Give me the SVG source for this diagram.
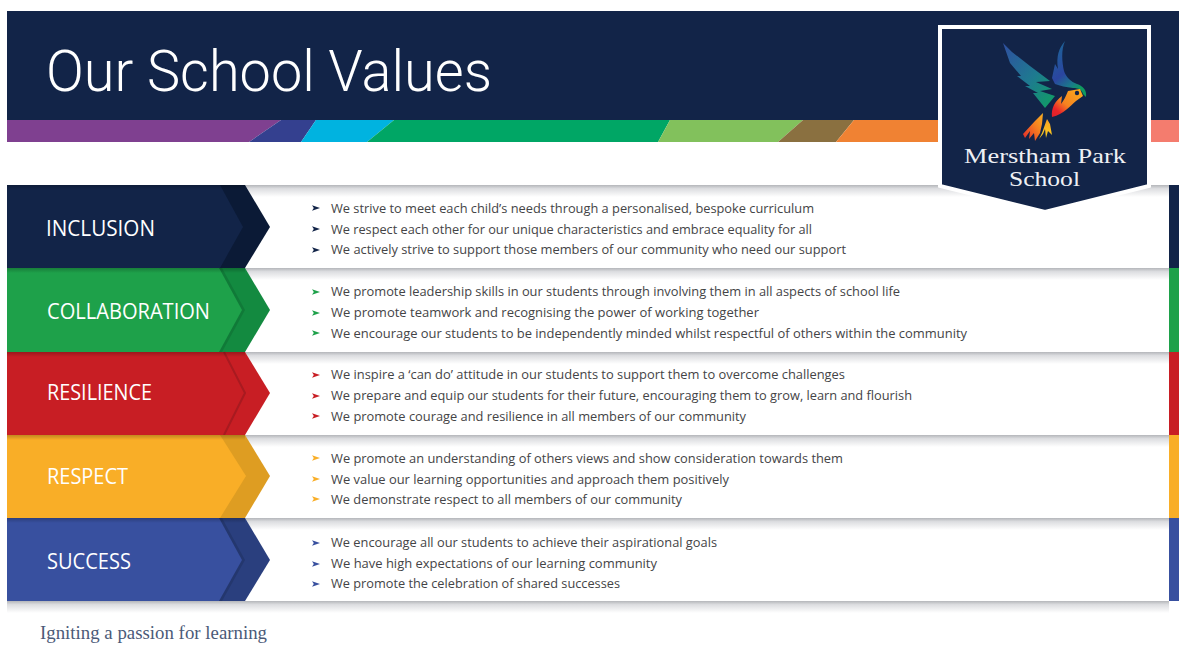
<svg xmlns="http://www.w3.org/2000/svg" width="1179" height="646" viewBox="0 0 1179 646">
<style>
.b{font-family:"Open Sans","Liberation Sans",sans-serif;font-size:13px;fill:#444446}
.l{font-family:"Open Sans","Liberation Sans",sans-serif;font-size:22px;fill:#fff}
.s{font-family:"Liberation Serif",serif;font-size:22px;fill:#eef0f4}
</style>
<defs>
<linearGradient id="sh" x1="0" y1="0" x2="0" y2="1"><stop offset="0" stop-color="#b4b6ba"/><stop offset=".3" stop-color="#dcdde0"/><stop offset="1" stop-color="#fff"/></linearGradient>
<linearGradient id="tp" x1="0" y1="0" x2="0" y2="1"><stop offset="0" stop-color="#000" stop-opacity=".22"/><stop offset="1" stop-color="#000" stop-opacity="0"/></linearGradient>
<symbol id="ar" overflow="visible"><path d="M0-2.7 8 0 0 2.7 1.8 0Z"/></symbol>
<linearGradient id="w1" x1="0" y1="0" x2="1" y2="1"><stop offset="0" stop-color="#2f4fa0"/><stop offset=".55" stop-color="#1e7a90"/><stop offset="1" stop-color="#0fa060"/></linearGradient>
<linearGradient id="w2" x1="0" y1="0" x2=".5" y2="1"><stop offset="0" stop-color="#1a6a96"/><stop offset=".6" stop-color="#2b45a0"/><stop offset=".85" stop-color="#1a7a8a"/><stop offset="1" stop-color="#0f9a60"/></linearGradient>
<linearGradient id="bd" x1="1" y1="0" x2="0" y2="1"><stop offset="0" stop-color="#fbb01c"/><stop offset=".55" stop-color="#f58220"/><stop offset=".8" stop-color="#e8242a"/><stop offset="1" stop-color="#e0202a"/></linearGradient>
<linearGradient id="tl" x1="0" y1="1" x2="1" y2="0"><stop offset="0" stop-color="#e3242b"/><stop offset=".6" stop-color="#f58220"/><stop offset="1" stop-color="#f9b023"/></linearGradient>
<linearGradient id="ty" x1="0" y1="0" x2="0" y2="1"><stop offset="0" stop-color="#f9a023"/><stop offset="1" stop-color="#fbd21e"/></linearGradient>
</defs>
<rect width="1179" height="646" fill="#fff"/>
<g id="header">
<rect x="7" y="11" width="1172" height="109" fill="#122448"/>
<path d="M7 120H281L249 142H7Z" fill="#7f4090"/>
<path d="M281 120H316L301 142H249Z" fill="#34408f"/>
<path d="M316 120H394L367 142H301Z" fill="#00b3e0"/>
<path d="M394 120H670L658 142H367Z" fill="#00a665"/>
<path d="M670 120H803L778 142H658Z" fill="#82c15c"/>
<path d="M803 120H854L836 142H778Z" fill="#8a7040"/>
<path d="M854 120H945V142H836Z" fill="#f08233"/>
<rect x="1145" y="120" width="34" height="22" fill="#f47c6e"/>
<text x="46" y="91" font-family="Roboto,sans-serif" font-weight="300" font-size="58" fill="#fff" textLength="446" lengthAdjust="spacingAndGlyphs">Our School Values</text>
</g>
<g id="row-inclusion">
<rect x="245" y="185" width="924" height="12" fill="url(#sh)"/>
<rect x="1169" y="185" width="10" height="83" fill="#122448"/>
<path d="M7 185H245L270 227 245 268H7Z" fill="#0b1a36"/><path d="M7 185H220L243 227 220 268H7Z" fill="#122448"/>
<rect x="7" y="185" width="238" height="5" fill="url(#tp)"/>
<text class="l" x="46" y="236" textLength="109" lengthAdjust="spacingAndGlyphs">INCLUSION</text>
<g fill="#122448"><use href="#ar" x="312" y="208"/><use href="#ar" x="312" y="229"/><use href="#ar" x="312" y="250"/></g>
<text class="b" x="331" y="213" textLength="483" lengthAdjust="spacingAndGlyphs">We strive to meet each child’s needs through a personalised, bespoke curriculum</text>
<text class="b" x="331" y="234" textLength="481" lengthAdjust="spacingAndGlyphs">We respect each other for our unique characteristics and embrace equality for all</text>
<text class="b" x="331" y="254" textLength="515" lengthAdjust="spacingAndGlyphs">We actively strive to support those members of our community who need our support</text>
</g>
<g id="row-collaboration">
<rect x="245" y="268" width="924" height="12" fill="url(#sh)"/>
<rect x="1169" y="268" width="10" height="84" fill="#1ea14a"/>
<path d="M7 268H245L270 310 245 352H7Z" fill="#138a40"/><path d="M222 268 245 310 222 352H7V268Z" fill="#107a38"/><path d="M7 268H219L242 310 219 352H7Z" fill="#1ea14a"/>
<rect x="7" y="268" width="238" height="5" fill="url(#tp)"/>
<text class="l" x="47" y="319" textLength="163" lengthAdjust="spacingAndGlyphs">COLLABORATION</text>
<g fill="#1ea14a"><use href="#ar" x="312" y="292"/><use href="#ar" x="312" y="313"/><use href="#ar" x="312" y="333"/></g>
<text class="b" x="331" y="296" textLength="569" lengthAdjust="spacingAndGlyphs">We promote leadership skills in our students through involving them in all aspects of school life</text>
<text class="b" x="331" y="317" textLength="428" lengthAdjust="spacingAndGlyphs">We promote teamwork and recognising the power of working together</text>
<text class="b" x="331" y="338" textLength="636" lengthAdjust="spacingAndGlyphs">We encourage our students to be independently minded whilst respectful of others within the community</text>
</g>
<g id="row-resilience">
<rect x="245" y="352" width="924" height="12" fill="url(#sh)"/>
<rect x="1169" y="352" width="10" height="83" fill="#c81e24"/>
<path d="M7 352H245L270 393 245 435H7Z" fill="#c81e24"/><path d="M224 352 245 393 224 435" fill="none" stroke="#a81a20" stroke-width="2"/>
<rect x="7" y="352" width="238" height="5" fill="url(#tp)"/>
<text class="l" x="47" y="400" textLength="105" lengthAdjust="spacingAndGlyphs">RESILIENCE</text>
<g fill="#c81e24"><use href="#ar" x="312" y="375"/><use href="#ar" x="312" y="396"/><use href="#ar" x="312" y="416"/></g>
<text class="b" x="331" y="379" textLength="514" lengthAdjust="spacingAndGlyphs">We inspire a ‘can do’ attitude in our students to support them to overcome challenges</text>
<text class="b" x="331" y="400" textLength="581" lengthAdjust="spacingAndGlyphs">We prepare and equip our students for their future, encouraging them to grow, learn and flourish</text>
<text class="b" x="331" y="421" textLength="415" lengthAdjust="spacingAndGlyphs">We promote courage and resilience in all members of our community</text>
</g>
<g id="row-respect">
<rect x="245" y="435" width="924" height="12" fill="url(#sh)"/>
<rect x="1169" y="435" width="10" height="83" fill="#f9ae27"/>
<path d="M7 435H245L270 476 245 518H7Z" fill="#de9d22"/><path d="M7 435H220L246 476 220 518H7Z" fill="#f9ae27"/>
<rect x="7" y="435" width="238" height="5" fill="url(#tp)"/>
<text class="l" x="47" y="484" textLength="81" lengthAdjust="spacingAndGlyphs">RESPECT</text>
<g fill="#f9ae27"><use href="#ar" x="312" y="458"/><use href="#ar" x="312" y="479"/><use href="#ar" x="312" y="499"/></g>
<text class="b" x="331" y="463" textLength="512" lengthAdjust="spacingAndGlyphs">We promote an understanding of others views and show consideration towards them</text>
<text class="b" x="331" y="484" textLength="398" lengthAdjust="spacingAndGlyphs">We value our learning opportunities and approach them positively</text>
<text class="b" x="331" y="504" textLength="351" lengthAdjust="spacingAndGlyphs">We demonstrate respect to all members of our community</text>
</g>
<g id="row-success">
<rect x="245" y="518" width="924" height="12" fill="url(#sh)"/>
<rect x="1169" y="518" width="10" height="83" fill="#38509f"/>
<path d="M7 518H245L270 560 245 601H7Z" fill="#2a3f7e"/><path d="M222 518 245 560 222 601H7V518Z" fill="#24376e"/><path d="M7 518H219L242 560 219 601H7Z" fill="#38509f"/>
<rect x="7" y="518" width="238" height="5" fill="url(#tp)"/>
<text class="l" x="47" y="569" textLength="84" lengthAdjust="spacingAndGlyphs">SUCCESS</text>
<g fill="#38509f"><use href="#ar" x="312" y="543"/><use href="#ar" x="312" y="564"/><use href="#ar" x="312" y="584"/></g>
<text class="b" x="331" y="547" textLength="386" lengthAdjust="spacingAndGlyphs">We encourage all our students to achieve their aspirational goals</text>
<text class="b" x="331" y="568" textLength="326" lengthAdjust="spacingAndGlyphs">We have high expectations of our learning community</text>
<text class="b" x="331" y="588" textLength="289" lengthAdjust="spacingAndGlyphs">We promote the celebration of shared successes</text>
</g>
<g id="row-end"><rect x="7" y="601" width="1162" height="12" fill="url(#sh)"/></g>
<g id="badge">
<path d="M940 27H1149V186L1045 212 940 186Z" fill="#122448" stroke="#fff" stroke-width="4"/>
<g id="bird">
<path d="M1003 43 1012 52 1030 66 1050 81 1036 82 1052 89 1040 91 1055 96 1045 108 1033 93 1038 93 1025 86 1030 86 1017 76 1021 76 1010 63Z" fill="url(#w1)"/>
<path d="M1065 41C1061 50 1062 62 1064 71 1066 77 1071 82 1077 84 1083 86 1087 90 1086 97L1083 94C1082 90 1079 88 1073 88 1066 87 1060 86 1055 84L1052 78 1055 64 1058 69C1056 56 1059 48 1065 41Z" fill="url(#w2)"/>
<path d="M1068 91 1080 89 1083 96 1076 101C1070 106 1064 114 1052 117 1051 108 1055 101 1062 96L1061 104C1064 100 1066 96 1068 91Z" fill="url(#bd)"/>
<circle cx="1077" cy="93" r="2.2" fill="#122448"/>
<path d="M1043 113 1035 121 1023 134 1025 138 1030 131 1029 139 1034 133 1035 141 1040 133 1042 124Z" fill="url(#tl)"/>
<path d="M1047 119 1042 133 1039 139 1043 134 1045 129 1046 138 1048 131 1052 135 1050 124Z" fill="url(#ty)"/>
</g>
<text class="s" x="964" y="163" textLength="162" lengthAdjust="spacingAndGlyphs">Merstham Park</text>
<text class="s" x="1009" y="186" textLength="71" lengthAdjust="spacingAndGlyphs">School</text>
</g>
<text id="tagline" x="40" y="639" font-family="Liberation Serif,serif" font-size="18" fill="#4b5a78" textLength="227" lengthAdjust="spacingAndGlyphs">Igniting a passion for learning</text>
</svg>
